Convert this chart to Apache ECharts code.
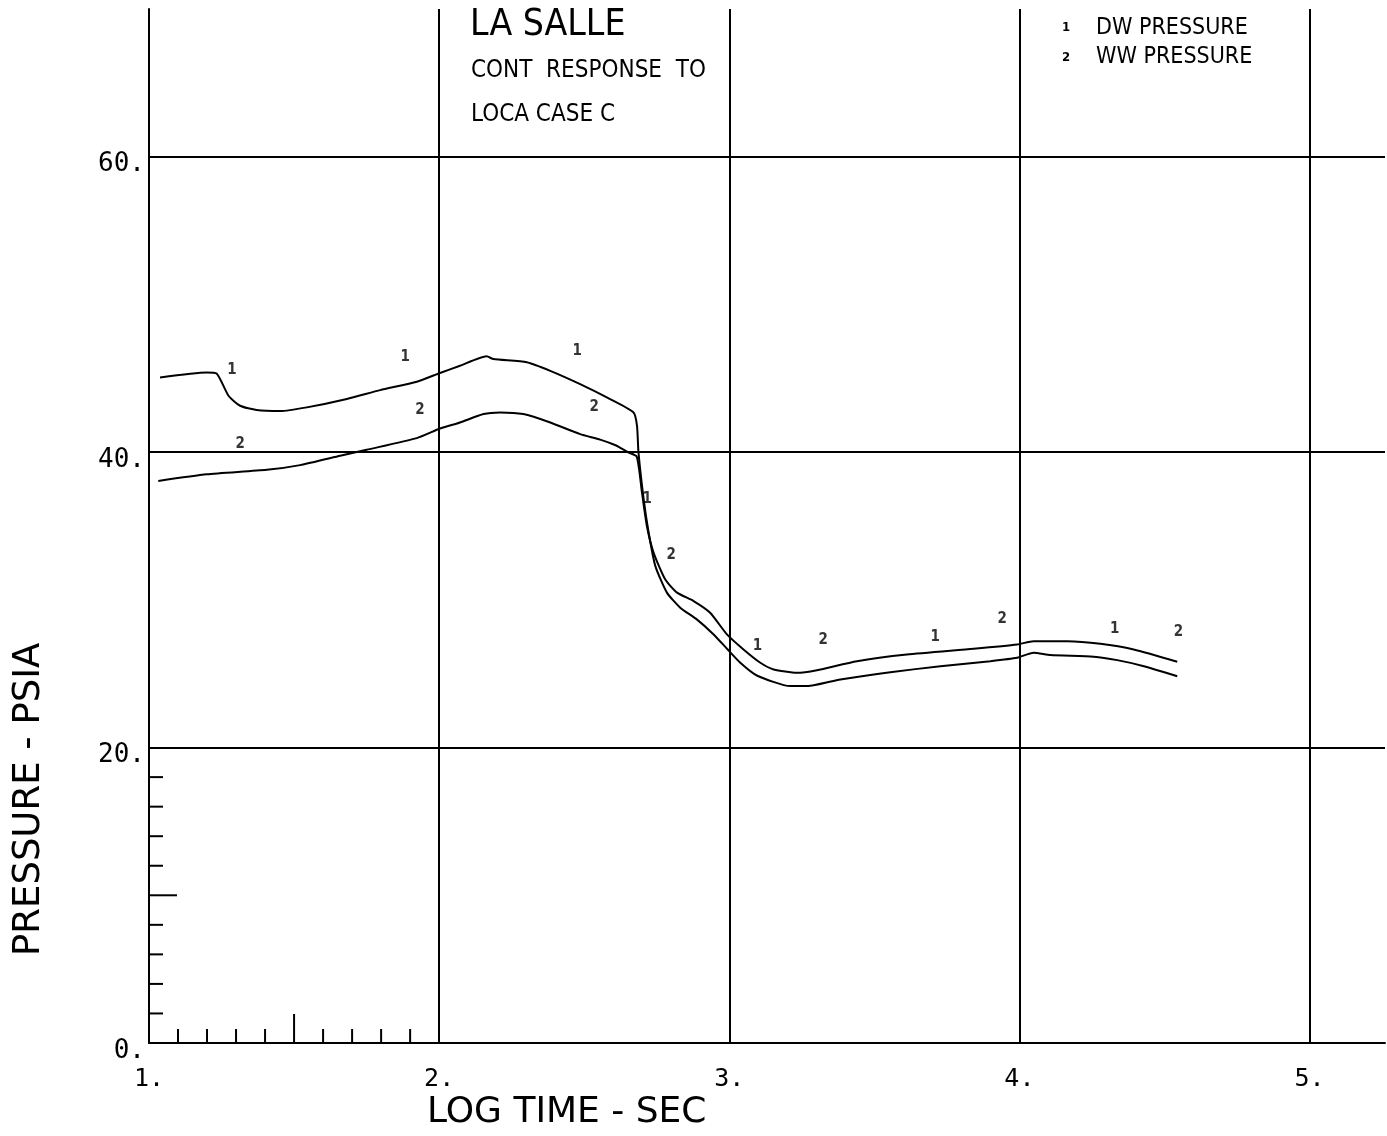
<!DOCTYPE html>
<html>
<head>
<meta charset="utf-8">
<title>LA SALLE - CONT RESPONSE TO LOCA CASE C</title>
<script src="https://cdn.jsdelivr.net/npm/echarts@6/dist/echarts.min.js"></script>
<style>
  html, body { margin: 0; padding: 0; background: #fff; }
  #chart { width: 1387px; height: 1136px; }
</style>
</head>
<body>
<div id="chart"></div>
<script>
  // DW pressure (curve 1), log time vs psia
  var dwTime = [1.038, 1.199, 1.233, 1.274, 1.314, 1.371, 1.452, 1.544, 1.682, 1.797, 1.923, 2.003, 2.072,
    2.164, 2.187, 2.302, 2.383, 2.486, 2.578, 2.670, 2.682, 2.687, 2.705, 2.722, 2.745, 2.785, 2.831,
    2.888, 2.946, 2.992, 3.038, 3.095, 3.210, 3.268, 3.383, 3.555, 3.728, 3.900, 3.992, 4.049, 4.107,
    4.256, 4.337, 4.429, 4.544];
  var dwPressure = [45.06, 45.40, 45.33, 43.82, 43.14, 42.85, 42.78, 43.03, 43.60, 44.20, 44.77, 45.36, 45.85,
    46.49, 46.30, 46.08, 45.50, 44.60, 43.70, 42.69, 41.78, 39.98, 36.80, 34.56, 32.30, 30.49, 29.47,
    28.68, 27.66, 26.69, 25.74, 24.88, 24.16, 24.16, 24.61, 25.10, 25.51, 25.85, 26.08, 26.42, 26.26,
    26.15, 25.92, 25.51, 24.83];

  // WW pressure (curve 2)
  var wwTime = [1.032, 1.199, 1.406, 1.521, 1.659, 1.750, 1.923, 2.003, 2.072, 2.153, 2.210, 2.290, 2.383,
    2.486, 2.555, 2.610, 2.650, 2.681, 2.699, 2.716, 2.739, 2.779, 2.820, 2.877, 2.934, 2.992, 3.049,
    3.107, 3.153, 3.233, 3.302, 3.440, 3.612, 3.842, 3.992, 4.049, 4.164, 4.279, 4.394, 4.544];
  var wwPressure = [38.05, 38.50, 38.80, 39.12, 39.75, 40.16, 40.95, 41.60, 42.01, 42.58, 42.69, 42.58, 42.01,
    41.22, 40.85, 40.45, 40.00, 39.70, 37.27, 35.00, 33.20, 31.39, 30.49, 29.92, 29.13, 27.66, 26.64,
    25.74, 25.29, 25.06, 25.24, 25.85, 26.30, 26.69, 26.98, 27.20, 27.20, 27.03, 26.64, 25.81];

  // curve id markers written along the lines
  var dwMarkTime = [1.286, 1.883, 2.476, 2.717, 3.097, 3.710, 4.328];
  var dwMarkPressure = [45.56, 46.44, 46.85, 36.81, 26.85, 27.46, 28.00];
  var wwMarkTime = [1.314, 1.934, 2.534, 2.800, 3.324, 3.941, 4.548];
  var wwMarkPressure = [40.54, 42.85, 43.05, 33.02, 27.25, 28.68, 27.80];

  // grid lines and axis ticks
  var timeGrid = [2, 3, 4, 5];
  var pressureGrid = [20, 40, 60];
  var timeMinorTicks = [1.1, 1.2, 1.3, 1.4, 1.5, 1.6, 1.7, 1.8, 1.9];
  var pressureMinorTicks = [2, 4, 6, 8, 10, 12, 14, 16, 18];

  var font = '"DejaVu Sans Condensed", "Liberation Sans Narrow", "DejaVu Sans", sans-serif';
  var wideFont = '"DejaVu Sans", sans-serif';
  var numFont = '"DejaVu Sans Mono", monospace';

  function pairs(xs, ys) {
    return xs.map(function (x, i) { return [x, ys[i]]; });
  }

  var chart = echarts.init(document.getElementById('chart'));

  chart.setOption({
    backgroundColor: '#fff',
    animation: false,
    grid: { left: 149, right: 2, top: 9, bottom: 93 },
    xAxis: {
      type: 'value',
      min: 1,
      max: 5.26,
      interval: 1,
      axisLine: { show: true, lineStyle: { color: '#000', width: 2 } },
      axisTick: { show: false },
      splitLine: { show: false },
      axisLabel: {
        margin: 24,
        color: '#000',
        fontFamily: numFont,
        fontSize: 25,
        showMaxLabel: false,
        formatter: function (v) { return v % 1 === 0 ? v + '.' : ''; }
      }
    },
    yAxis: {
      type: 'value',
      min: 0,
      max: 70,
      interval: 20,
      axisLine: { show: true, lineStyle: { color: '#000', width: 2 } },
      axisTick: { show: false },
      splitLine: { show: false },
      axisLabel: {
        margin: 4,
        color: '#000',
        fontFamily: numFont,
        fontSize: 26,
        verticalAlign: 'top',
        lineHeight: 16,
        showMaxLabel: false,
        formatter: function (v) { return v % 20 === 0 ? v + '.' : ''; }
      }
    },
    graphic: [
      { type: 'text', left: 470, top: 7, style: { text: 'LA SALLE', font: '37px ' + font, fill: '#000' } },
      { type: 'text', left: 471, top: 59, style: { text: 'CONT  RESPONSE  TO', font: '24px ' + font, fill: '#000' } },
      { type: 'text', left: 471, top: 103, style: { text: 'LOCA CASE C', font: '24px ' + font, fill: '#000' } },
      { type: 'text', left: 1062, top: 21, style: { text: '1', font: 'bold 13px ' + font, fill: '#000' } },
      { type: 'text', left: 1096, top: 17, style: { text: 'DW PRESSURE', font: '23px ' + font, fill: '#000' } },
      { type: 'text', left: 1062, top: 51, style: { text: '2', font: 'bold 13px ' + font, fill: '#000' } },
      { type: 'text', left: 1096, top: 46, style: { text: 'WW PRESSURE', font: '23px ' + font, fill: '#000' } },
      { type: 'text', left: 427, top: 1095, style: { text: 'LOG TIME - SEC', font: '36px ' + wideFont, fill: '#000' } },
      {
        type: 'text', x: 11, y: 956, rotation: Math.PI / 2,
        style: { text: 'PRESSURE - PSIA', font: '37px ' + wideFont, fill: '#000' }
      }
    ],
    series: [
      {
        name: 'DW PRESSURE',
        type: 'line',
        data: pairs(dwTime, dwPressure),
        showSymbol: false,
        smooth: 0.2,
        lineStyle: { color: '#000', width: 2 },
        markLine: {
          silent: true,
          symbol: 'none',
          label: { show: false },
          lineStyle: { color: '#000', width: 2, type: 'solid' },
          data: timeGrid.map(function (v) { return { xAxis: v }; })
            .concat(pressureGrid.map(function (v) { return { yAxis: v }; }))
        }
      },
      {
        name: 'WW PRESSURE',
        type: 'line',
        data: pairs(wwTime, wwPressure),
        showSymbol: false,
        smooth: 0.2,
        lineStyle: { color: '#000', width: 2 }
      },
      {
        type: 'scatter',
        data: pairs(dwMarkTime, dwMarkPressure),
        symbolSize: 1,
        itemStyle: { color: 'transparent' },
        label: { show: true, position: 'inside', formatter: '1', color: '#000', fontSize: 15, fontWeight: 'bold', fontFamily: font }
      },
      {
        type: 'scatter',
        data: pairs(wwMarkTime, wwMarkPressure),
        symbolSize: 1,
        itemStyle: { color: 'transparent' },
        label: { show: true, position: 'inside', formatter: '2', color: '#000', fontSize: 15, fontWeight: 'bold', fontFamily: font }
      },
      {
        type: 'custom',
        silent: true,
        data: timeMinorTicks,
        renderItem: function (params, api) {
          var v = api.value(0);
          var p = api.coord([v, 0]);
          var len = Math.abs(v - 1.5) < 1e-9 ? 29 : 14;
          return {
            type: 'line',
            shape: { x1: p[0], y1: p[1], x2: p[0], y2: p[1] - len },
            style: { stroke: '#000', lineWidth: 2 }
          };
        },
        encode: { x: 0 }
      },
      {
        type: 'custom',
        silent: true,
        data: pressureMinorTicks.map(function (v) { return [1, v]; }),
        renderItem: function (params, api) {
          var v = api.value(1);
          var p = api.coord([1, v]);
          var len = v === 10 ? 28 : 14;
          return {
            type: 'line',
            shape: { x1: p[0], y1: p[1], x2: p[0] + len, y2: p[1] },
            style: { stroke: '#000', lineWidth: 2 }
          };
        },
        encode: { x: 0, y: 1 }
      }
    ]
  });

  window.addEventListener('resize', function () {
    chart.resize();
  });
</script>
</body>
</html>
